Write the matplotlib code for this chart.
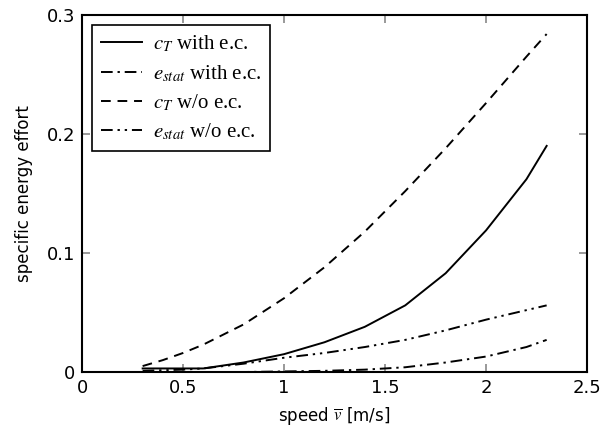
import matplotlib.pyplot as plt
import numpy as np

# speed samples [m/s]
speed = [0.3, 0.4, 0.5, 0.6, 0.8, 1.0, 1.2, 1.4, 1.6, 1.8, 2.0, 2.2, 2.3]

# specific energy effort
ct_with_ec = [0.003, 0.003, 0.003, 0.003, 0.008, 0.015, 0.025, 0.038, 0.056, 0.083, 0.119, 0.162, 0.190]
estat_with_ec = [0.0, 0.0, 0.0, 0.0, 0.0, 0.0005, 0.001, 0.002, 0.004, 0.008, 0.013, 0.021, 0.027]
ct_wo_ec = [0.005, 0.010, 0.016, 0.023, 0.040, 0.062, 0.088, 0.118, 0.152, 0.188, 0.226, 0.265, 0.284]
estat_wo_ec = [0.001, 0.0015, 0.002, 0.003, 0.007, 0.012, 0.016, 0.021, 0.027, 0.035, 0.044, 0.052, 0.056]

plt.rcParams['mathtext.fontset'] = 'stix'

fig = plt.figure(figsize=(6.14, 4.37), dpi=100)
ax = fig.add_axes([0.1336, 0.1487, 0.8225, 0.817])

lw = 1.4
ax.plot(speed, ct_with_ec, color='black', lw=lw, label=r'$c_T$ with e.c.')
ax.plot(speed, estat_with_ec, color='black', lw=lw, linestyle=(0, (6, 2.5, 1.2, 2.5)),
        label=r'$e_{stat}$ with e.c.')
ax.plot(speed, ct_wo_ec, color='black', lw=lw, linestyle=(0, (5, 3.5)), label=r'$c_T$ w/o e.c.')
ax.plot(speed, estat_wo_ec, color='black', lw=lw, linestyle=(0, (6, 2.5, 1.2, 2.5, 1.2, 2.5)),
        label=r'$e_{stat}$ w/o e.c.')

ax.set_xlim(0, 2.5)
ax.set_ylim(0, 0.3)
ax.set_xticks(np.arange(0, 2.51, 0.5))
ax.set_xticklabels(['0', '0.5', '1', '1.5', '2', '2.5'])
ax.set_yticks([0, 0.1, 0.2, 0.3])
ax.set_yticklabels(['0', '0.1', '0.2', '0.3'])
ax.tick_params(direction='in', length=6, width=1.2, color='#888888', top=True, right=True,
               labelsize=13, pad=5)
for s in ax.spines.values():
    s.set_linewidth(1.5)

ax.set_xlabel(r'speed $\overline{v}$ [m/s]', fontsize=12, labelpad=6)
ax.set_ylabel('specific energy effort', fontsize=12, labelpad=10)

leg = ax.legend(loc='upper left', prop={'family': 'Liberation Serif', 'size': 15},
                fancybox=False, framealpha=1, edgecolor='black', handlelength=2.0,
                borderpad=0.4, labelspacing=0.42, handletextpad=0.5, borderaxespad=0.5)
leg.get_frame().set_linewidth(1.2)

fig.savefig('out.png', dpi=100)
